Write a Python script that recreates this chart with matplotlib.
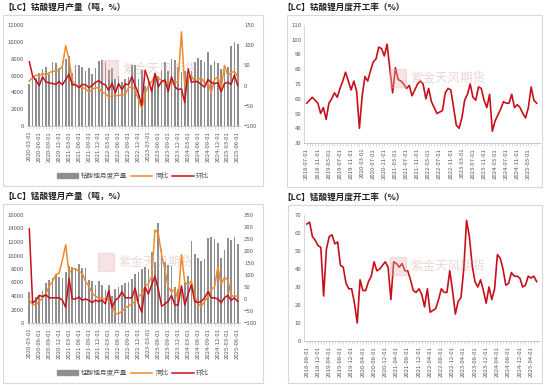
import numpy as np
import pandas as pd
import matplotlib
matplotlib.use("Agg")
import matplotlib.pyplot as plt
from matplotlib.patches import Rectangle, Patch
from matplotlib.lines import Line2D

plt.rcParams['font.family'] = ['Noto Sans CJK SC', 'DejaVu Sans']

# ---- data ----
# 钴酸锂月产量 (吨) + 同比/环比 (%), 2020-03 .. 2025-06
lco_dates = pd.date_range("2020-03-01", periods=64, freq="MS")
lco_output = [5000, 6200, 5700, 6300, 6800, 7000, 6200, 7600, 7500, 6900,
              7700, 8000, 8300, 6300, 7300, 7200, 7000, 6500, 6900, 6200,
              6900, 7700, 7900, 7600, 6700, 6900, 5600, 6000, 5200, 5600,
              5800, 7300, 7200, 5600, 6600, 4800, 5600, 4600, 6300, 6000,
              6700, 7600, 6500, 8000, 7800, 7000, 6400, 6500, 6000, 6500,
              7600, 8100, 7900, 7600, 8800, 7300, 7700, 7500, 6800, 6500,
              7000, 9500, 10000, 9700]
lco_yoy = [11, 20, 26, 24, 30, 26, 32, 35, 36, 38,
           48, 99, 65, 12, 1, -3, -5, -7, -16, -10,
           -5, -6, -16, -20, -28, -25, -26, -24, -23, -22,
           -5, -2, -10, -35, -57, -20, 0, 10, 25, 20,
           12, 8, 10, 5, 8, 10, 133, -5, 20, 25,
           10, 15, 20, 5, 10, -18, 15, 22, -8, 50,
           25, 32, 35, 22]
lco_mom = [59, 24, 12, 0, 22, 9, 7, 5, 3, 10,
           2, 15, 28, 2, 2, -5, 3, 2, -5, 0,
           8, 12, 5, 2, -12, 6, -18, 5, -10, 4,
           2, 22, 0, -20, -49, 38, 15, -15, 30, -3,
           10, 14, -15, 22, -3, -10, -8, -42, 42, 8,
           10, 9, 3, -4, 15, 8, 5, 7, -15, 5,
           8, 3, 26, 0]

# 钴酸锂月度开工率 (%), 2018-07 .. 2025-06
lco_rate_dates = pd.date_range("2018-07-01", periods=84, freq="MS")
lco_rate = [57, 59, 61, 59, 57, 50, 54, 46, 57, 60,
            64, 61, 67, 72, 78, 72, 66, 72, 65, 40,
            62, 75, 72, 79, 85, 87, 95, 94, 89, 97,
            80, 64, 81, 73, 72, 70, 67, 69, 62, 66,
            70, 72, 70, 60, 67, 58, 54, 50, 51, 52,
            64, 67, 66, 54, 42, 40, 47, 59, 63, 70,
            61, 59, 68, 67, 59, 54, 63, 38, 45, 49,
            53, 58, 57, 57, 63, 54, 56, 54, 50, 47,
            54, 68, 59, 57]

# 锰酸锂月产量 (吨) + 同比/环比 (%), 2020-03 .. 2025-06
lmo_dates = pd.date_range("2020-03-01", periods=64, freq="MS")
lmo_output = [4600, 4000, 3800, 4200, 4800, 5900, 6400, 6700, 7200, 6800,
              6700, 7500, 8400, 8300, 8100, 8800, 8100, 8100, 6400, 6200,
              5700, 6200, 5700, 4900, 5700, 4000, 5000, 5400, 5600, 5900,
              6100, 6500, 7200, 7600, 8000, 8300, 8000, 10500, 9000, 14800,
              11000, 9000, 8600, 8500, 5400, 5000, 5300, 6000, 7000, 12100,
              10200, 9600, 9200, 9500, 12600, 12700, 12500, 11800, 9700, 10800,
              12600, 12300, 12700, 11700]
lmo_yoy = [-3, -24, -24, -10, 4, 21, 53, 73, 101, 108,
           163, 226, 108, 125, 125, 115, 108, 73, 53, 25,
           11, 4, 2, 0, -5, -24, -61, -61, -51, -37,
           -30, -20, -10, 11, 20, 53, 64, 94, 288, 274,
           184, 120, 50, 30, 40, -5, 185, 70, 60, 75,
           10, -20, -30, -10, 10, 40, 50, 135, 60, 90,
           80, 15, 10, 15]
lmo_mom = [292, -17, -5, 15, 10, 18, 5, 5, 5, 5,
           -5, -35, 85, 0, 0, 8, -5, 0, -5, -15,
           -5, -10, -5, -20, 35, -35, -5, 5, 30, 5,
           5, 5, 45, -20, -55, 50, 20, 60, 95, 40,
           -30, -20, -10, 15, -25, -25, 55, -25, 20, 60,
           -10, -15, -10, 5, 30, 5, 5, 0, -15, 5,
           15, -5, 5, -10]

# 锰酸锂月度开工率 (%), 2018-08 .. 2025-06
lmo_rate_dates = pd.date_range("2018-08-01", periods=83, freq="MS")
lmo_rate = [65, 66, 58, 56, 53, 52, 25, 51, 58, 59,
            54, 55, 42, 41, 32, 29, 29, 21, 10, 34,
            28, 28, 33, 36, 44, 39, 40, 42, 44, 41,
            23, 44, 43, 41, 43, 39, 39, 34, 28, 27,
            29, 26, 19, 29, 16, 17, 18, 23, 29, 27,
            27, 39, 28, 15, 22, 24, 40, 67, 58, 42,
            33, 30, 34, 28, 21, 30, 23, 29, 48, 46,
            40, 31, 32, 38, 36, 36, 35, 30, 31, 36,
            35, 36, 33]

GRAY = "#8f8f8f"
ORANGE = "#F08A2C"
RED = "#C8101A"
TICK = "#595959"
FS = 4.3

W, H = 550, 385
fig = plt.figure(figsize=(5.5, 3.85), dpi=100)


def px_rect(x0, y0, x1, y1):
    return [x0 / W, 1 - y1 / H, (x1 - x0) / W, (y1 - y0) / H]


def card(x0, y0, x1, y1):
    fig.patches.append(Rectangle((x0 / W, 1 - y1 / H), (x1 - x0) / W, (y1 - y0) / H,
                                 transform=fig.transFigure, fill=False,
                                 edgecolor="#d9d9d9", linewidth=0.8))


def title(x, y, s):
    fig.text(x / W, 1 - y / H, s, fontsize=6.2, fontweight="bold",
             va="center", ha="left", color="#222222")


def watermark(x, y):
    fig.text(x / W, 1 - y / H, "紫金天风期货", fontsize=9, color="#d9a6a6",
             alpha=0.45, ha="left", va="center", zorder=0)
    fig.patches.append(Rectangle(((x - 20) / W, 1 - (y + 9) / H), 16 / W, 18 / H,
                                 transform=fig.transFigure, color="#e8b4b4",
                                 alpha=0.35, zorder=0))


def date_axis(ax, dates, step):
    n = len(dates)
    ax.set_xticks(np.arange(n), minor=True)
    ax.set_xticks(np.arange(0, n, step))
    ax.set_xticklabels([d.strftime("%Y-%m-%d") for d in dates[::step]],
                       rotation=90, fontsize=FS, color=TICK)
    ax.tick_params(axis="x", which="both", length=2, width=0.4, color="#bfbfbf", pad=1.5)


def style(ax):
    for s in ["top", "right", "left"]:
        ax.spines[s].set_visible(False)
    ax.spines["bottom"].set_color("#bfbfbf")
    ax.spines["bottom"].set_linewidth(0.6)
    ax.tick_params(axis="y", length=0, labelsize=FS, labelcolor=TICK, pad=2)


def output_panel(rect, dates, output, yoy, mom, ylim, y2lim, yticks, y2ticks, label, leg_y):
    ax = fig.add_axes(rect)
    x = np.arange(len(dates))
    ax.bar(x, output, width=0.5, color=GRAY, zorder=1)
    ax.set_xlim(-0.7, len(dates) - 0.3)
    ax.set_ylim(*ylim)
    ax.set_yticks(yticks)
    style(ax)
    date_axis(ax, dates, 3)
    ax2 = ax.twinx()
    ax2.plot(x, yoy, color=ORANGE, lw=1.1, zorder=3)
    ax2.plot(x, mom, color=RED, lw=1.1, zorder=4)
    ax2.set_ylim(*y2lim)
    ax2.set_yticks(y2ticks)
    for s in ["top", "right", "left", "bottom"]:
        ax2.spines[s].set_visible(False)
    ax2.tick_params(axis="y", length=0, labelsize=FS, labelcolor=TICK, pad=3)
    handles = [Patch(color=GRAY), Line2D([], [], color=ORANGE, lw=1.1),
               Line2D([], [], color=RED, lw=1.1)]
    fig.legend(handles, [label, "同比", "环比"], loc="center",
               bbox_to_anchor=(133 / W, 1 - leg_y / H), ncol=3, frameon=False,
               fontsize=4.8, handlelength=3.2, handletextpad=0.4, columnspacing=0.6,
               labelcolor=TICK)


def rate_panel(rect, dates, rate, ylim, yticks, step):
    ax = fig.add_axes(rect)
    x = np.arange(len(dates))
    ax.plot(x, rate, color=RED, lw=1.2)
    ax.set_xlim(-1, len(dates) + 0.2)
    ax.set_ylim(*ylim)
    ax.set_yticks(yticks)
    style(ax)
    ax.spines["left"].set_visible(True)
    ax.spines["left"].set_color("#d0d0d0")
    ax.spines["left"].set_linewidth(0.6)
    date_axis(ax, dates, step)


# cards
card(3, 15, 263, 186)
card(287, 15, 542, 187)
card(3, 204, 263, 383)
card(288, 205, 542, 383)

title(3, 7, "【LC】钴酸锂月产量（吨，%）")
title(282, 7, "【LC】钴酸锂月度开工率（%）")
title(3, 196, "【LC】锰酸锂月产量（吨，%）")
title(282, 197, "【LC】锰酸锂月度开工率（%）")

watermark(122, 69)
watermark(410, 78)
watermark(118, 262)
watermark(410, 266)

output_panel(px_rect(27, 25, 240, 126), lco_dates, lco_output, lco_yoy, lco_mom,
             (0, 12000), (-100, 150), range(0, 12001, 2000), range(-100, 151, 50),
             "钴酸锂月度产量", 176)
rate_panel(px_rect(304, 25, 540, 143), lco_rate_dates, lco_rate, (30, 110),
           range(30, 111, 10), 4)
output_panel(px_rect(27, 215, 240, 323), lmo_dates, lmo_output, lmo_yoy, lmo_mom,
             (0, 16000), (-100, 350), range(0, 16001, 2000), range(-100, 351, 50),
             "锰酸锂月度产量", 373)
rate_panel(px_rect(304, 215, 540, 341), lmo_rate_dates, lmo_rate, (0, 70),
           range(0, 71, 10), 4)

fig.savefig("out.png", dpi=100, facecolor="white")
